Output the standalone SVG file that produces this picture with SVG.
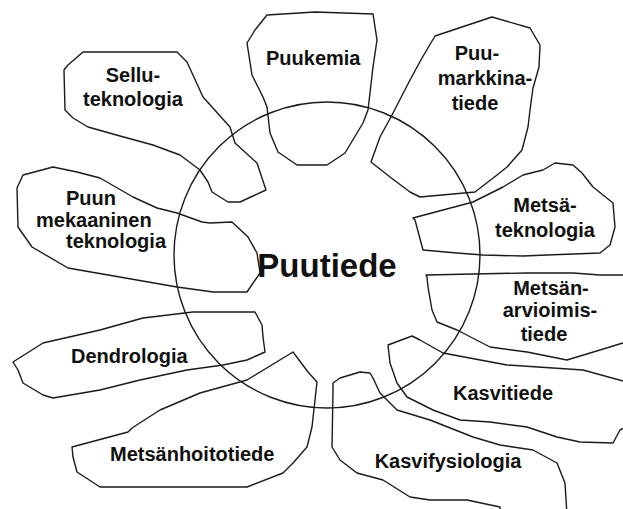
<svg xmlns="http://www.w3.org/2000/svg" width="623" height="509" viewBox="0 0 623 509">
<style>
.s{fill:none;stroke:#1a1a1a;stroke-width:1.4;stroke-linejoin:round}
.t{font-family:"Liberation Sans",Arial,sans-serif;font-weight:bold;font-size:20px;fill:#111}
.c{text-anchor:middle}
</style>
<rect width="623" height="509" fill="#fff"/>
<g id="connectors">
<circle class="s" cx="327" cy="255" r="153"/>
</g>
<g id="puutiede">
<text class="t c" x="327" y="277" style="font-size:33px">Puutiede</text>
</g>
<g id="sellu">
<path class="s" d="M83,52 L177,52 L187,62 L203,97 L230,127 L235,143 L257,163 L266,190 L240,202 L228,202 L212,192 L208,182 L200,170 L180,155 L153,145 L120,136 L88,127 L73,118 L65,110 L64,70 L68,65 Z"/>
<text class="t c" x="133" y="82">Sellu-</text>
<text class="t c" x="133" y="106">teknologia</text>
</g>
<g id="puun">
<path class="s" d="M53,167 L77,172 L100,178 L133,197 L157,208 L177,213 L202,222 L210,223 L232,222 L248,237 L257,253 L260,273 L247,292 L213,292 L177,287 L68,268 L32,247 L18,227 L17,188 L23,175 Z"/>
<text class="t" x="66" y="205">Puun</text>
<text class="t" x="36" y="227">mekaaninen</text>
<text class="t" x="66" y="248">teknologia</text>
</g>
<g id="puukemia">
<path class="s" d="M267,15 L315,12 L373,14 L377,40 L373,67 L368,110 L363,123 L345,153 L327,165 L297,165 L278,152 L270,133 L267,107 L263,97 L252,75 L247,43 L255,30 Z"/>
<text class="t" x="266" y="65">Puukemia</text>
</g>
<g id="puumarkkina">
<path class="s" d="M435,36 L492,17 L530,28 L540,45 L539,67 L533,88 L530,110 L528,127 L522,150 L507,167 L497,175 L475,192 L420,197 L410,192 L390,177 L371,162 L380,137 L392,115 L410,80 L422,58 Z"/>
<text class="t c" x="477" y="60">Puu-</text>
<text class="t c" x="485" y="85">markkina-</text>
<text class="t c" x="475" y="110">tiede</text>
</g>
<g id="metsateknologia">
<path class="s" d="M413,218 L473,202 L503,187 L523,175 L543,170 L555,163 L573,165 L582,173 L593,187 L613,203 L615,227 L610,245 L600,253 L547,255 L523,256 L483,255 L457,253 L423,250 L415,220 Z"/>
<text class="t c" x="545" y="212">Metsä-</text>
<text class="t c" x="545" y="237">teknologia</text>
</g>
<g id="metsanarvioimis">
<path class="s" d="M427,277 L426,275 L473,274 L527,273 L573,273 L600,275 L630,275 L630,343 L623,343 L567,360 L527,352 L490,347 L457,330 L437,322 L432,310 L428,287 Z"/>
<text class="t c" x="551" y="295">Metsän-</text>
<text class="t c" x="550" y="317">arvioimis-</text>
<text class="t c" x="544" y="341">tiede</text>
</g>
<g id="kasvitiede">
<path class="s" d="M388,345 L412,336 L420,340 L443,353 L507,365 L583,370 L630,383 L630,425 L620,430 L613,443 L580,442 L557,437 L527,427 L490,422 L460,420 L433,410 L407,397 L397,383 L390,363 Z"/>
<text class="t c" x="503" y="400">Kasvitiede</text>
</g>
<g id="kasvifysiologia">
<path class="s" d="M333,390 L333,383 L340,378 L360,372 L370,373 L373,378 L380,393 L397,410 L430,420 L473,437 L500,445 L533,450 L557,463 L565,483 L567,515 L500,515 L500,507 L467,500 L430,500 L410,497 L383,480 L357,473 L340,460 L332,447 Z"/>
<text class="t c" x="448" y="468">Kasvifysiologia</text>
</g>
<g id="dendrologia">
<path class="s" d="M13,362 L43,343 L100,330 L143,318 L193,312 L255,312 L262,325 L263,337 L265,352 L247,360 L223,365 L187,370 L140,380 L100,390 L53,398 L43,395 L23,383 L18,370 Z"/>
<text class="t" x="71" y="363">Dendrologia</text>
</g>
<g id="metsanhoitotiede">
<path class="s" d="M72,447 L128,432 L132,428 L160,410 L200,393 L247,380 L293,352 L308,372 L317,382 L312,427 L307,447 L293,463 L283,473 L247,487 L100,487 L77,472 L73,457 Z"/>
<text class="t" x="110" y="461">Metsänhoitotiede</text>
</g>
</svg>
